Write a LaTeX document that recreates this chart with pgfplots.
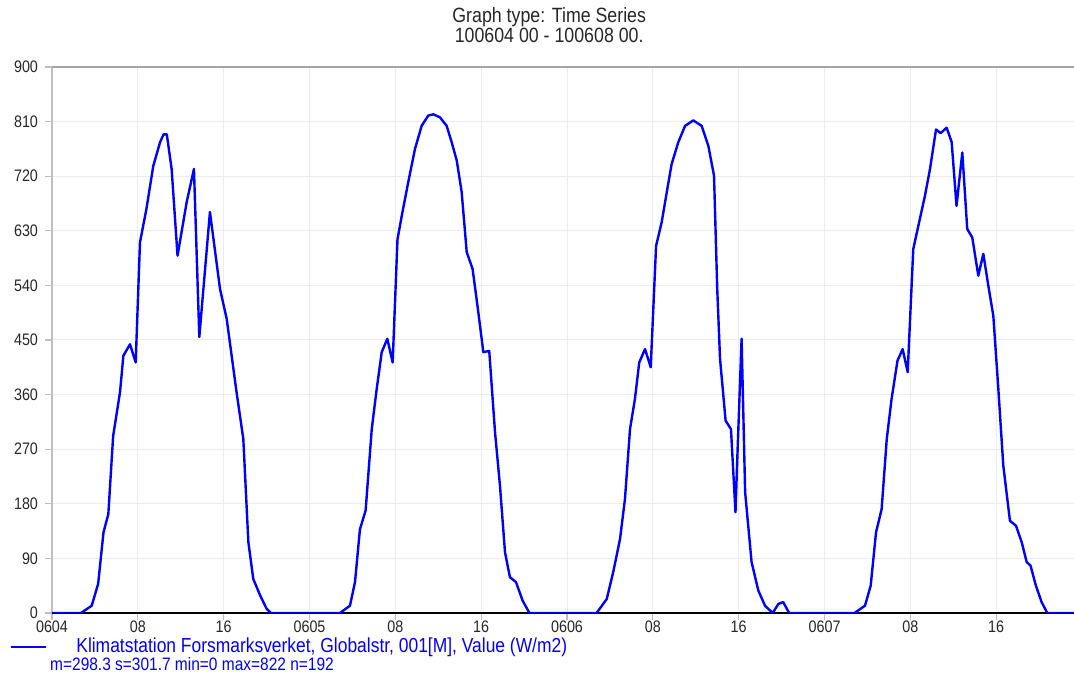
\documentclass[border=0pt]{standalone}
\usepackage{pgfplots}
\pgfplotsset{compat=1.18}
\usepackage{fontspec}
\setmainfont{Liberation Sans}[FakeStretch=0.86]
\definecolor{gridgray}{RGB}{236,236,236}
\definecolor{axgray}{RGB}{190,190,190}
\definecolor{topgray}{RGB}{165,165,165}
\begin{document}
\begin{tikzpicture}
\path[use as bounding box] (-39pt,-47.5pt) rectangle (766.5pt,459.75pt);
\begin{axis}[
    at={(0,0)}, anchor=south west,
    scale only axis,
    width=766.5pt, height=409.5pt,
    xmin=0, xmax=95.25,
    ymin=0, ymax=900,
    clip mode=individual,
    axis lines=left,
    axis line style={-},
    x axis line style={black, line width=0.9pt},
    y axis line style={axgray, line width=1.2pt},
    xtick={0,8,16,24,32,40,48,56,64,72,80,88},
    xticklabels={0604,08,16,0605,08,16,0606,08,16,0607,08,16},
    ytick={0,90,180,270,360,450,540,630,720,810},
    extra y ticks={900},
    extra y tick style={grid style={topgray, line width=2pt}},
    grid=major,
    grid style={gridgray, line width=0.75pt},
    tick style={axgray, line width=0.8pt},
    major tick length=5pt,
    ytick pos=left, xtick pos=bottom,
    tick align=outside,
    /pgf/number format/assume math mode=true,
    ticklabel style={font=\fontsize{12.5}{14}\selectfont, text=black!85},
    yticklabel style={xshift=-2pt},
    xticklabel style={yshift=3pt},
    legend style={at={(axis description cs:-0.0411,-0.0600)}, anchor=west,
        draw=none, fill=none, inner sep=0pt, outer sep=0pt,
        nodes={inner sep=0pt, text=blue, font=\fontsize{15.2}{17}\selectfont},
        /tikz/every odd column/.style={column sep=22pt}},
    legend image code/.code={\draw[#1] (0pt,-1pt) -- (26pt,-1pt);},
]
\addplot[blue, line width=1.8pt, line join=round] coordinates {
(0,0) (2.7,0) (3.7,12) (4.3,48) (4.8,133) (5.25,163) (5.7,292) (6.34,364) (6.65,424) (7.27,443) (7.8,413) (8.2,611) (8.8,666) (9.44,737) (10.07,776) (10.4,789) (10.7,789) (11.15,732) (11.7,589) (12.55,677) (13.23,732) (13.73,455) (14.72,661) (15.66,534) (16.28,485) (17.2,364) (17.83,287) (18.3,117) (18.76,56) (19.4,29) (20.0,7) (20.4,0)
(26.84,0) (27.77,12) (28.24,51) (28.7,138) (29.23,169) (29.8,303) (30.26,369) (30.73,430) (31.25,452) (31.75,413) (32.2,616) (32.6,655) (33.2,710) (33.83,765) (34.45,803) (35.07,820) (35.54,822) (36.16,817) (36.78,803) (37.25,776) (37.72,746) (38.18,694) (38.65,595) (39.2,567) (39.73,496) (40.2,430) (40.75,432) (41.29,298) (41.75,210) (42.22,100) (42.68,59) (43.24,51) (43.87,20) (44.5,0)
(50.76,0) (51.7,23) (52.3,67) (52.94,122) (53.4,188) (53.87,303) (54.33,353) (54.73,413) (55.27,435) (55.8,405) (56.3,605) (56.82,644) (57.3,694) (57.75,740) (58.37,776) (59.0,803) (59.77,812) (60.55,803) (61.17,770) (61.7,721) (62.0,534) (62.26,419) (62.78,317) (63.28,303) (63.7,166) (63.9,270) (64.27,452) (64.6,199) (65.2,84) (65.83,37) (66.45,12) (67.17,0) (67.7,15) (68.15,18) (68.7,0)
(74.8,0) (75.77,12) (76.3,45) (76.8,133) (77.32,171) (77.8,287) (78.25,353) (78.8,416) (79.28,435) (79.75,397) (80.27,600) (80.74,638) (81.36,688) (81.83,732) (82.39,797) (82.82,791) (83.38,800) (83.85,776) (84.3,671) (84.84,759) (85.3,633) (85.77,619) (86.33,556) (86.8,592) (87.26,540) (87.73,490) (88.2,369) (88.66,243) (89.28,152) (89.84,144) (90.37,117) (90.84,84) (91.2,78) (91.7,45) (92.23,18) (92.76,0) (96,0)
};
\addlegendentry{Klimatstation Forsmarksverket, Globalstr, 001[M], Value (W/m2)}
\node[font=\fontsize{15.5}{12}\selectfont, align=center, text=black!85] at (axis description cs:0.4865,1.0775) {Graph type: Time Series\\100604 00 - 100608 00.};
\node[font=\fontsize{13.5}{14}\selectfont, text=blue, anchor=west, inner sep=0pt] at (axis description cs:-0.002,-0.0935) {m=298.3 s=301.7 min=0 max=822 n=192};
\end{axis}
\end{tikzpicture}
\end{document}
